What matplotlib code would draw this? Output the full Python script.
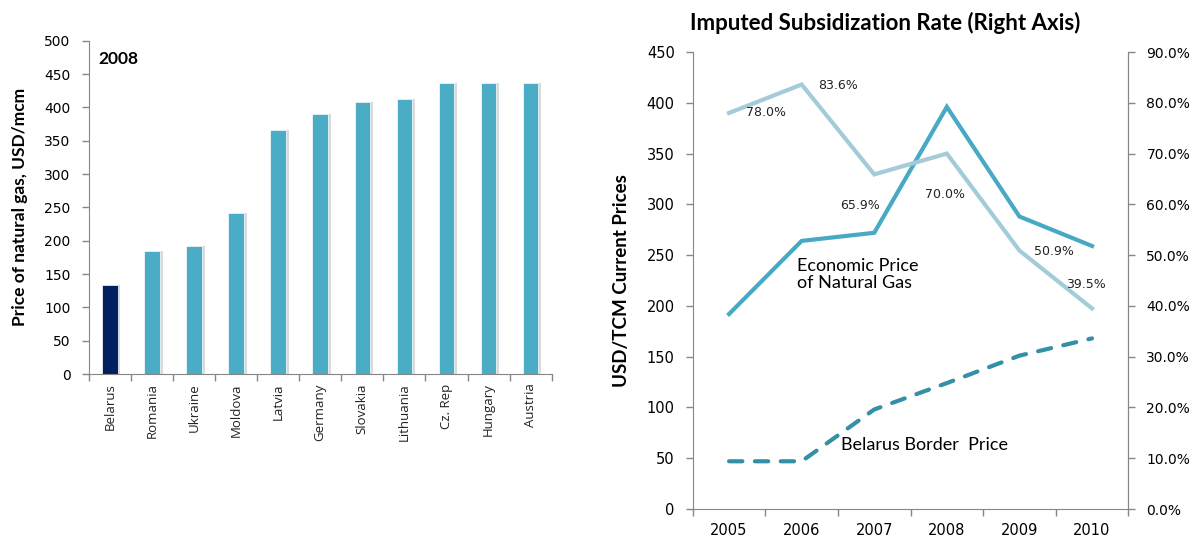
import matplotlib.pyplot as plt
import numpy as np

# left panel: 2008 gas prices
countries = ["Belarus", "Romania", "Ukraine", "Moldova", "Latvia", "Germany",
             "Slovakia", "Lithuania", "Cz. Rep", "Hungary", "Austria"]
price_2008 = [133, 184, 192, 242, 366, 390, 408, 413, 437, 437, 437]

# right panel: time series
years = ["2005", "2006", "2007", "2008", "2009", "2010"]
economic_price = [192, 264, 272, 396, 288, 259]
border_price = [47, 47, 98, 124, 151, 168]
subsidy_rate = [78.0, 83.6, 65.9, 70.0, 50.9, 39.5]

grey = "#868686"
bar_col = "#4BACC6"
dark_col = "#002060"
eco_col = "#47A9C4"
sub_col = "#A3CCD8"
bord_col = "#3490A6"

fig = plt.figure(figsize=(11.94, 5.38), dpi=100)

# ---- left chart ----
ax1 = fig.add_axes([0.0743, 0.3048, 0.3878, 0.6195])
x = np.arange(len(countries))
colors = [dark_col] + [bar_col] * (len(countries) - 1)
ax1.bar(x + 0.07, price_2008, width=0.37, color="#d9d9d9", zorder=1)
ax1.bar(x, price_2008, width=0.37, color=colors, edgecolor="white",
        linewidth=0.5, zorder=2)
ax1.set_xlim(-0.5, len(countries) - 0.5)
ax1.set_ylim(0, 500)
ax1.set_yticks(np.arange(0, 501, 50))
ax1.set_xticks(np.arange(-0.5, len(countries), 1))
ax1.set_xticklabels([])
ax1.tick_params(axis="x", length=5, color=grey, width=1)
ax1.tick_params(axis="y", length=5, color=grey, width=1, labelsize=10,
                pad=8)
for i, name in enumerate(countries):
    ax1.text(i, -14, name, rotation=90, ha="center", va="top",
             fontsize=9.5, family="Open Sans", color="#222222")
for s in ["top", "right"]:
    ax1.spines[s].set_visible(False)
for s in ["left", "bottom"]:
    ax1.spines[s].set_color(grey)
ax1.text(0.02, 0.97, "2008", transform=ax1.transAxes, fontsize=12.5,
         fontweight="bold", family="Lato", va="top")
fig.text(0.017, 0.615, "Price of natural gas, USD/mcm", rotation=90,
         ha="center", va="center", fontsize=12.5, fontweight="bold",
         family="Lato")

# ---- right chart ----
ax2 = fig.add_axes([0.5802, 0.0539, 0.3648, 0.8494])
xr = np.arange(len(years))
ax2.plot(xr, economic_price, color=eco_col, lw=3, solid_joinstyle="miter",
         zorder=3)
ax2.plot(xr, border_price, color=bord_col, lw=3, dashes=(3.2, 3.0),
         dash_capstyle="round", zorder=3)
ax2.set_xlim(-0.5, len(years) - 0.5)
ax2.set_ylim(0, 450)
ax2.set_yticks(np.arange(0, 451, 50))
ax2.set_xticks(xr)
ax2.set_xticklabels(years)
ax2.set_xticks(np.arange(-0.5, len(years), 1), minor=True)
ax2.tick_params(axis="x", which="major", length=0, labelsize=10.5, pad=10)
ax2.tick_params(axis="x", which="minor", length=5, color=grey, width=1)
ax2.tick_params(axis="y", length=5, color=grey, width=1, labelsize=10.5,
                pad=8)
ax2.spines["top"].set_visible(False)
for s in ["left", "bottom", "right"]:
    ax2.spines[s].set_color(grey)
ax2.set_ylabel("USD/TCM Current Prices", fontsize=13.5, fontweight="bold",
               family="Lato", labelpad=12)

ax3 = ax2.twinx()
ax3.plot(xr, subsidy_rate, color=sub_col, lw=3, solid_joinstyle="miter",
         zorder=2)
ax3.set_ylim(0, 90)
ax3.set_yticks(np.arange(0, 91, 10))
ax3.set_yticklabels(["{:.1f}%".format(v) for v in np.arange(0, 91, 10)])
ax3.tick_params(axis="y", length=5, color=grey, width=1, labelsize=10,
                pad=8)
ax3.spines["top"].set_visible(False)
ax3.spines["right"].set_color(grey)
ax3.spines["left"].set_visible(False)
ax3.spines["bottom"].set_visible(False)

lab_pos = [(0.51, 78.0), (1.50, 83.5), (1.81, 59.7), (2.97, 62.0),
           (4.48, 50.8), (4.92, 44.2)]
for (px, py), v in zip(lab_pos, subsidy_rate):
    ax3.text(px, py, "{:.1f}%".format(v), ha="center", va="center",
             fontsize=9, color="#222222")

ax2.text(0.94, 231, "Economic Price\nof Natural Gas", ha="left",
         va="center", fontsize=13, family="Lato", linespacing=1.05)
ax2.text(1.54, 63, "Belarus Border  Price", ha="left", va="center",
         fontsize=13, family="Lato")

fig.text(0.741, 0.957, "Imputed Subsidization Rate (Right Axis)",
         ha="center", va="center", fontsize=16, fontweight="bold",
         family="Lato")

plt.savefig("out.png", dpi=100)
